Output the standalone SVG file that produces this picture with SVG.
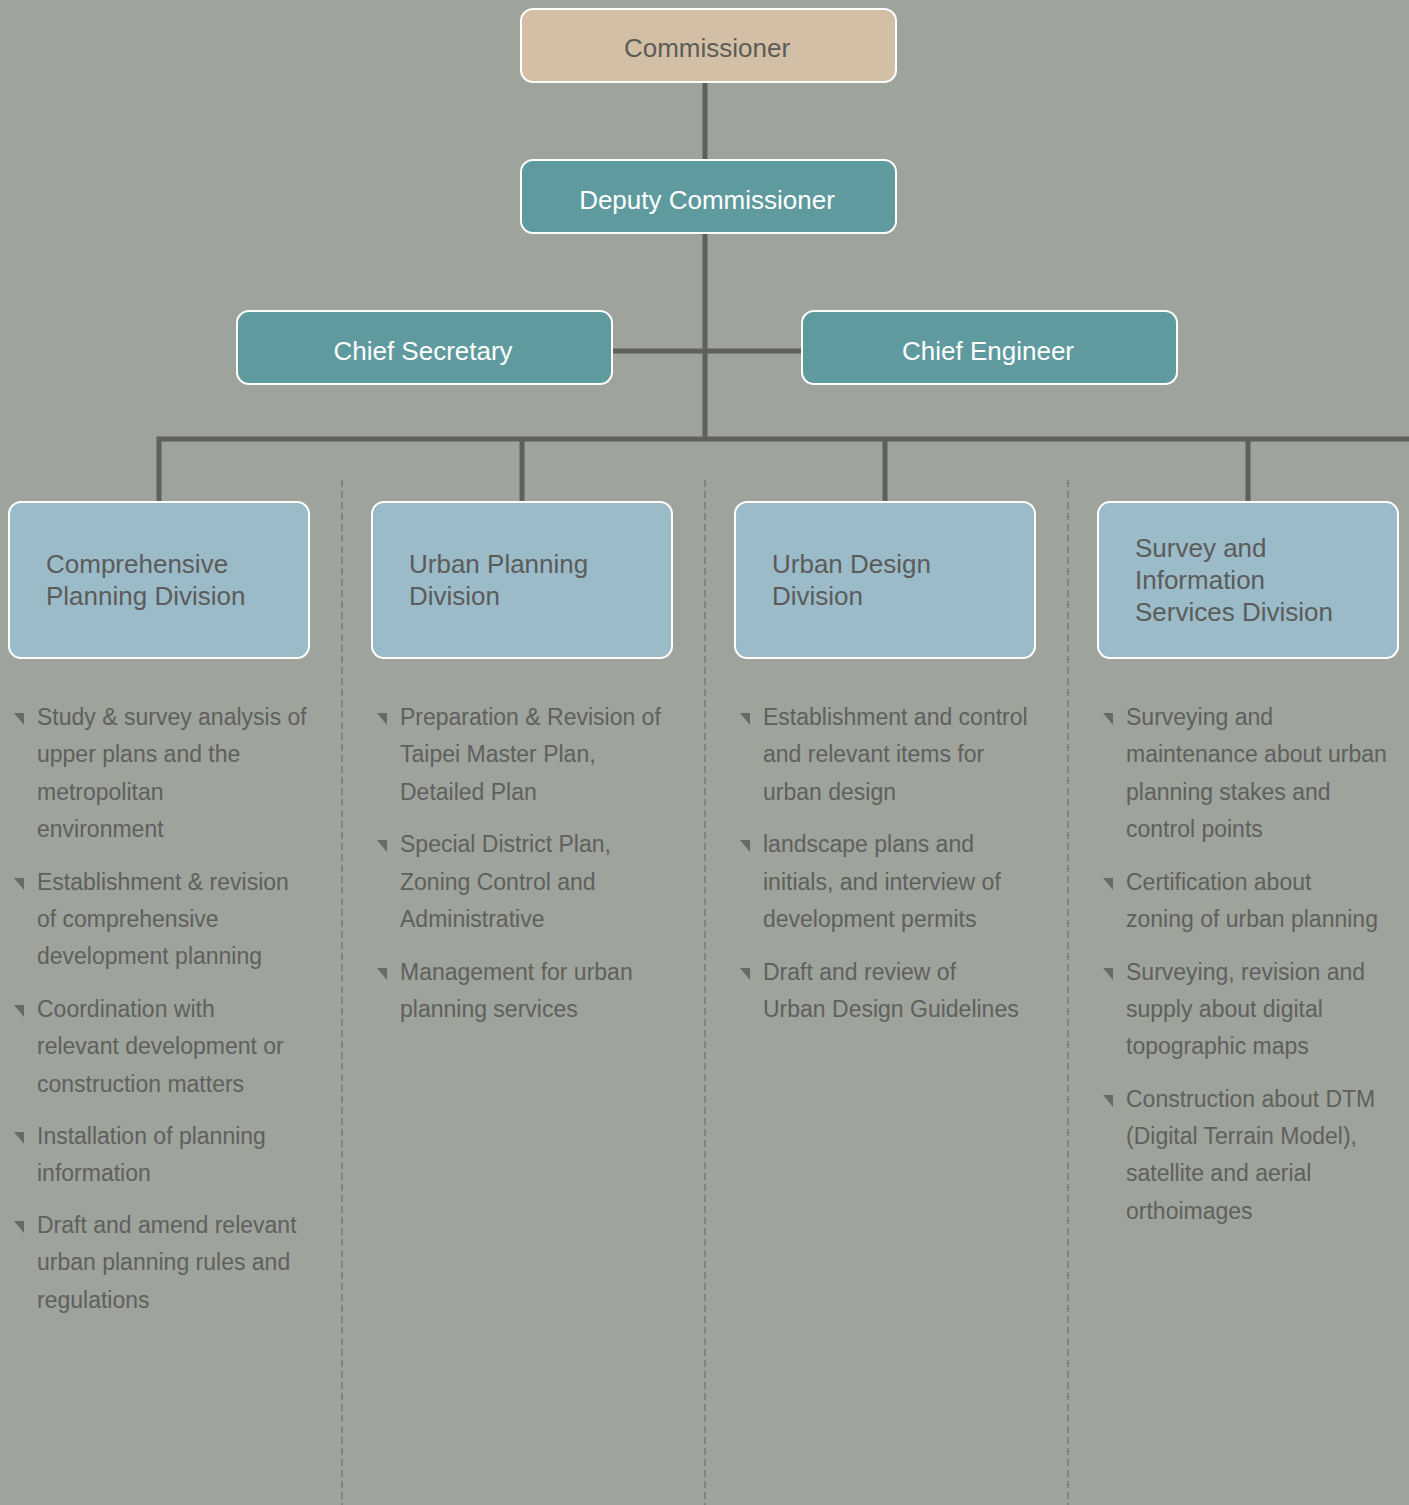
<svg xmlns="http://www.w3.org/2000/svg" width="1409" height="1505" viewBox="0 0 1409 1505">
<defs>
<style>
.bg{fill:#9ea39c}
.box{stroke:#ffffff;stroke-width:2}
.top{fill:#d2bfa5}
.mid{fill:#5e9a9e}
.div{fill:#9bbbc9}
.ln{stroke:#5f5f5c;stroke-width:5;fill:none}
.sep{stroke:#70726e;stroke-width:1.2;stroke-dasharray:7,4;fill:none}
.t{font-family:"Liberation Sans",Arial,sans-serif;}
.dk{fill:#5b5c59}
.wh{fill:#ffffff}
.h{font-size:26px}
.b{font-size:23px;fill:#5f605c}
.bl{fill:#696a66}
</style>
<path id="bul" d="M0 0 L10 0 L10 12 Z"/>
</defs>
<rect class="bg" x="0" y="0" width="1409" height="1505"/>
<g id="connectors">
<line class="ln" x1="705" y1="82" x2="705" y2="441"/>
<line class="ln" x1="612" y1="351" x2="802" y2="351"/>
<polyline class="ln" points="159,502 159,439 1409,439"/>
<line class="ln" x1="522" y1="439" x2="522" y2="502"/>
<line class="ln" x1="885" y1="439" x2="885" y2="502"/>
<line class="ln" x1="1248" y1="439" x2="1248" y2="502"/>
<line class="sep" x1="342" y1="480" x2="342" y2="1505"/>
<line class="sep" x1="705" y1="480" x2="705" y2="1505"/>
<line class="sep" x1="1068" y1="480" x2="1068" y2="1505"/>
</g>
<g id="commissioner">
<rect class="box top" x="521" y="9" width="375" height="73" rx="12"/>
<text class="t h dk" x="707" y="57" text-anchor="middle">Commissioner</text>
</g>
<g id="deputy">
<rect class="box mid" x="521" y="160" width="375" height="73" rx="12"/>
<text class="t h wh" x="707" y="209" text-anchor="middle">Deputy Commissioner</text>
</g>
<g id="chief-secretary">
<rect class="box mid" x="237" y="311" width="375" height="73" rx="12"/>
<text class="t h wh" x="423" y="360" text-anchor="middle">Chief Secretary</text>
</g>
<g id="chief-engineer">
<rect class="box mid" x="802" y="311" width="375" height="73" rx="12"/>
<text class="t h wh" x="988" y="360" text-anchor="middle">Chief Engineer</text>
</g>
<g id="comprehensive">
<rect class="box div" x="9" y="502" width="300" height="156" rx="12"/>
<text class="t h dk" x="46" y="573">Comprehensive</text>
<text class="t h dk" x="46" y="605">Planning Division</text>
</g>
<g id="urban-planning">
<rect class="box div" x="372" y="502" width="300" height="156" rx="12"/>
<text class="t h dk" x="409" y="573">Urban Planning</text>
<text class="t h dk" x="409" y="605">Division</text>
</g>
<g id="urban-design">
<rect class="box div" x="735" y="502" width="300" height="156" rx="12"/>
<text class="t h dk" x="772" y="573">Urban Design</text>
<text class="t h dk" x="772" y="605">Division</text>
</g>
<g id="survey">
<rect class="box div" x="1098" y="502" width="300" height="156" rx="12"/>
<text class="t h dk" x="1135" y="557">Survey and</text>
<text class="t h dk" x="1135" y="589">Information</text>
<text class="t h dk" x="1135" y="621">Services Division</text>
</g>
<g id="comprehensive-duties">
<use href="#bul" class="bl" x="14" y="713"/>
<text class="t b" x="37" y="725">Study &amp; survey analysis of</text>
<text class="t b" x="37" y="762">upper plans and the</text>
<text class="t b" x="37" y="800">metropolitan</text>
<text class="t b" x="37" y="837">environment</text>
<use href="#bul" class="bl" x="14" y="878"/>
<text class="t b" x="37" y="890">Establishment &amp; revision</text>
<text class="t b" x="37" y="927">of comprehensive</text>
<text class="t b" x="37" y="964">development planning</text>
<use href="#bul" class="bl" x="14" y="1005"/>
<text class="t b" x="37" y="1017">Coordination with</text>
<text class="t b" x="37" y="1054">relevant development or</text>
<text class="t b" x="37" y="1092">construction matters</text>
<use href="#bul" class="bl" x="14" y="1132"/>
<text class="t b" x="37" y="1144">Installation of planning</text>
<text class="t b" x="37" y="1181">information</text>
<use href="#bul" class="bl" x="14" y="1221"/>
<text class="t b" x="37" y="1233">Draft and amend relevant</text>
<text class="t b" x="37" y="1270">urban planning rules and</text>
<text class="t b" x="37" y="1308">regulations</text>
</g>
<g id="urban-planning-duties">
<use href="#bul" class="bl" x="377" y="713"/>
<text class="t b" x="400" y="725">Preparation &amp; Revision of</text>
<text class="t b" x="400" y="762">Taipei Master Plan,</text>
<text class="t b" x="400" y="800">Detailed Plan</text>
<use href="#bul" class="bl" x="377" y="840"/>
<text class="t b" x="400" y="852">Special District Plan,</text>
<text class="t b" x="400" y="890">Zoning Control and</text>
<text class="t b" x="400" y="927">Administrative</text>
<use href="#bul" class="bl" x="377" y="968"/>
<text class="t b" x="400" y="980">Management for urban</text>
<text class="t b" x="400" y="1017">planning services</text>
</g>
<g id="urban-design-duties">
<use href="#bul" class="bl" x="740" y="713"/>
<text class="t b" x="763" y="725">Establishment and control</text>
<text class="t b" x="763" y="762">and relevant items for</text>
<text class="t b" x="763" y="800">urban design</text>
<use href="#bul" class="bl" x="740" y="840"/>
<text class="t b" x="763" y="852">landscape plans and</text>
<text class="t b" x="763" y="890">initials, and interview of</text>
<text class="t b" x="763" y="927">development permits</text>
<use href="#bul" class="bl" x="740" y="968"/>
<text class="t b" x="763" y="980">Draft and review of</text>
<text class="t b" x="763" y="1017">Urban Design Guidelines</text>
</g>
<g id="survey-duties">
<use href="#bul" class="bl" x="1103" y="713"/>
<text class="t b" x="1126" y="725">Surveying and</text>
<text class="t b" x="1126" y="762">maintenance about urban</text>
<text class="t b" x="1126" y="800">planning stakes and</text>
<text class="t b" x="1126" y="837">control points</text>
<use href="#bul" class="bl" x="1103" y="878"/>
<text class="t b" x="1126" y="890">Certification about</text>
<text class="t b" x="1126" y="927">zoning of urban planning</text>
<use href="#bul" class="bl" x="1103" y="968"/>
<text class="t b" x="1126" y="980">Surveying, revision and</text>
<text class="t b" x="1126" y="1017">supply about digital</text>
<text class="t b" x="1126" y="1054">topographic maps</text>
<use href="#bul" class="bl" x="1103" y="1095"/>
<text class="t b" x="1126" y="1107">Construction about DTM</text>
<text class="t b" x="1126" y="1144">(Digital Terrain Model),</text>
<text class="t b" x="1126" y="1181">satellite and aerial</text>
<text class="t b" x="1126" y="1219">orthoimages</text>
</g>
</svg>
